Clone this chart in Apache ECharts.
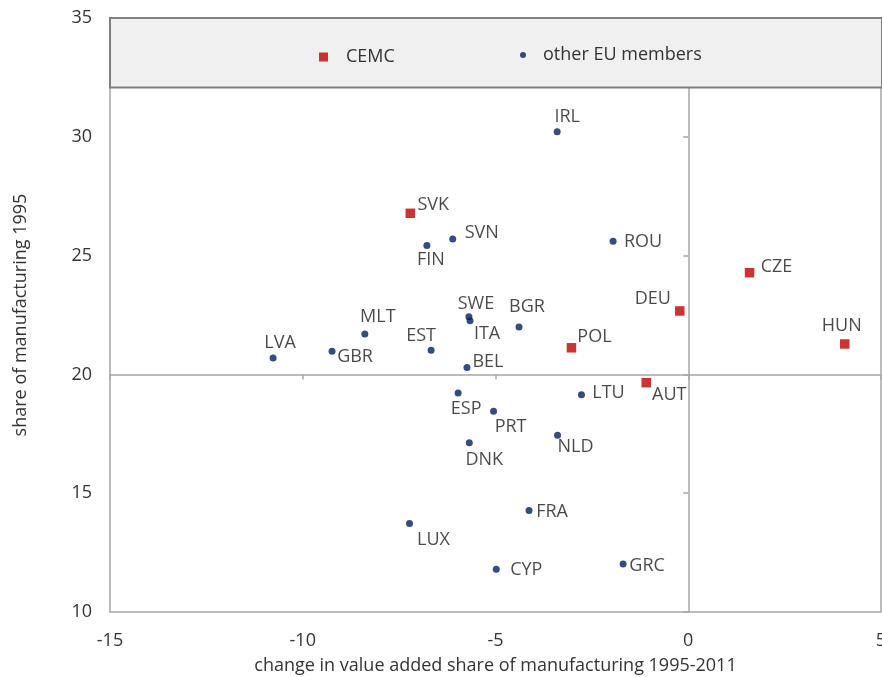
<!DOCTYPE html>
<html>
<head>
<meta charset="utf-8">
<title>Manufacturing share 1995 vs change 1995-2011</title>
<script src="https://cdn.jsdelivr.net/npm/echarts@6/dist/echarts.min.js"></script>
<style>
  html, body { margin: 0; padding: 0; background: #ffffff; }
  #chart { width: 882px; height: 677px; }
</style>
</head>
<body>
<div id="chart"></div>
<script>
// Central European manufacturing core (CEMC)
const cemcCodes  = ['SVK', 'CZE', 'DEU', 'HUN', 'POL', 'AUT'];
const cemcChange = [-7.21, 1.59, -0.22, 4.06, -3.03, -1.09];
const cemcShare  = [26.78, 24.28, 22.67, 21.28, 21.12, 19.65];

// Other EU member states
const otherCodes  = ['IRL', 'SVN', 'FIN', 'ROU', 'BGR', 'SWE', 'ITA', 'MLT', 'EST', 'GBR', 'LVA', 'BEL',
                     'ESP', 'PRT', 'LTU', 'DNK', 'NLD', 'FRA', 'LUX', 'CYP', 'GRC'];
const otherChange = [-3.40, -6.11, -6.78, -1.95, -4.39, -5.69, -5.66, -8.39, -6.67, -9.24, -10.77, -5.74,
                     -5.97, -5.05, -2.77, -5.68, -3.39, -4.13, -7.23, -4.98, -1.69];
const otherShare  = [30.21, 25.70, 25.42, 25.60, 21.99, 22.43, 22.26, 21.70, 21.02, 20.97, 20.69, 20.29,
                     19.22, 18.45, 19.14, 17.12, 17.44, 14.27, 13.72, 11.80, 12.02];

// Axis ranges and tick labels
const xTicks = [-15, -10, -5, 0, 5];
const yTicks = [10, 15, 20, 25, 30, 35];
const xCross = 0;   // vertical reference line
const yCross = 20;  // horizontal reference line

const seriesNames = ['CEMC', 'other EU members'];
const xTitle = 'change in value added share of manufacturing 1995-2011';
const yTitle = 'share of manufacturing 1995';

// Where each country label sits relative to its marker (text centre, px)
const labelOffset = {
  SVK: [23, -8], CZE: [27, -6], DEU: [-27, -12], HUN: [-3, -18], POL: [23, -11], AUT: [23, 12],
  IRL: [10, -15], SVN: [29, -6], FIN: [4, 14], ROU: [30, 1], BGR: [8, -20], SWE: [7, -13],
  ITA: [17, 13], MLT: [13, -17], EST: [-10, -14], GBR: [23, 6], LVA: [7, -15], BEL: [21, -6],
  ESP: [8, 16], PRT: [17, 16], LTU: [27, -2], DNK: [15, 17], NLD: [18, 12], FRA: [23, 1],
  LUX: [24, 16], CYP: [30, 1], GRC: [24, 2]
};

const FONT = '"Open Sans", "Noto Sans", sans-serif';
const AXIS_GREY = '#a6a6a6';
const TEXT_GREY = '#333333';

function points(codes, xs, ys) {
  return codes.map((c, i) => ({
    name: c,
    value: [xs[i], ys[i]],
    label: { offset: labelOffset[c] || [0, 0] }
  }));
}

const el = document.getElementById('chart');
const chart = echarts.init(el, null, { renderer: 'canvas' });

const grid = { left: 110, right: 1, top: 18, bottom: 65 };
const plotW = chart.getWidth() - grid.left - grid.right;
const plotH = chart.getHeight() - grid.top - grid.bottom;
const xMin = xTicks[0], xMax = xTicks[xTicks.length - 1];
const yMin = yTicks[0], yMax = yTicks[yTicks.length - 1];
const tickStepX = xTicks[1] - xTicks[0];
const tickStepY = yTicks[1] - yTicks[0];

// crossing axes are shifted into the plot area from the frame edges
const xCrossOffset = -((yCross - yMin) / (yMax - yMin)) * plotH;
const yCrossOffset = -((xCross - xMin) / (xMax - xMin)) * plotW;

const labelStyle = {
  show: true,
  position: 'inside',
  formatter: '{b}',
  color: '#1c1c1c',
  fontFamily: FONT,
  fontSize: 18
};

const option = {
  animation: false,
  backgroundColor: '#ffffff',
  textStyle: { fontFamily: FONT },
  grid: Object.assign({
    show: true, borderColor: AXIS_GREY, borderWidth: 1.5, backgroundColor: 'transparent',
    containLabel: false, outerBoundsMode: 'none'
  }, grid),
  graphic: [{
    type: 'rect',
    z: 5,
    shape: { x: grid.left, y: grid.top, width: chart.getWidth() - grid.left, height: 69.5 },
    style: { fill: '#f0f0f0', stroke: '#7f7f7f', lineWidth: 2 }
  }],
  legend: [
    {
      z: 10, left: 314, top: 43, itemWidth: 9, itemHeight: 9, icon: 'rect',
      data: [seriesNames[0]],
      textStyle: { color: TEXT_GREY, fontFamily: FONT, fontSize: 18, padding: [0, 0, 0, 13] }
    },
    {
      z: 10, left: 515, top: 41, itemWidth: 6, itemHeight: 6, icon: 'circle',
      data: [seriesNames[1]],
      textStyle: { color: TEXT_GREY, fontFamily: FONT, fontSize: 18, padding: [0, 0, 0, 12] }
    }
  ],
  xAxis: [
    {
      type: 'value', min: xMin, max: xMax, interval: tickStepX, position: 'bottom',
      axisLine: { show: false }, axisTick: { show: false }, splitLine: { show: false },
      axisLabel: { color: TEXT_GREY, fontSize: 18, fontFamily: FONT, margin: 20 },
      name: xTitle, nameLocation: 'middle', nameGap: 45,
      nameTextStyle: { color: TEXT_GREY, fontSize: 18, fontFamily: FONT }
    },
    {
      type: 'value', min: xMin, max: xMax, interval: tickStepX, position: 'bottom',
      offset: xCrossOffset,
      axisLine: { show: true, lineStyle: { color: AXIS_GREY, width: 1.5 } },
      axisTick: { show: true, length: 5, lineStyle: { color: AXIS_GREY, width: 1.5 } },
      axisLabel: { show: false }, splitLine: { show: false }
    }
  ],
  yAxis: [
    {
      type: 'value', min: yMin, max: yMax, interval: tickStepY, position: 'left',
      axisLine: { show: false }, axisTick: { show: false }, splitLine: { show: false },
      axisLabel: { color: TEXT_GREY, fontSize: 18, fontFamily: FONT, margin: 18 },
      name: yTitle, nameLocation: 'middle', nameGap: 80, nameRotate: 90,
      nameTextStyle: { color: TEXT_GREY, fontSize: 18, fontFamily: FONT }
    },
    {
      type: 'value', min: yMin, max: yMax, interval: tickStepY, position: 'left',
      offset: yCrossOffset,
      axisLine: { show: true, lineStyle: { color: AXIS_GREY, width: 1.5 } },
      axisTick: { show: true, length: 5, lineStyle: { color: AXIS_GREY, width: 1.5 } },
      axisLabel: { show: false }, splitLine: { show: false }
    }
  ],
  series: [
    {
      name: seriesNames[0], type: 'scatter', xAxisIndex: 0, yAxisIndex: 0,
      symbol: 'rect', symbolSize: 9.5,
      itemStyle: { color: '#c00000' },
      label: labelStyle,
      data: points(cemcCodes, cemcChange, cemcShare)
    },
    {
      name: seriesNames[1], type: 'scatter', xAxisIndex: 0, yAxisIndex: 0,
      symbol: 'circle', symbolSize: 7,
      itemStyle: { color: '#002060' },
      label: labelStyle,
      data: points(otherCodes, otherChange, otherShare)
    }
  ]
};

chart.setOption(option);
</script>
</body>
</html>
